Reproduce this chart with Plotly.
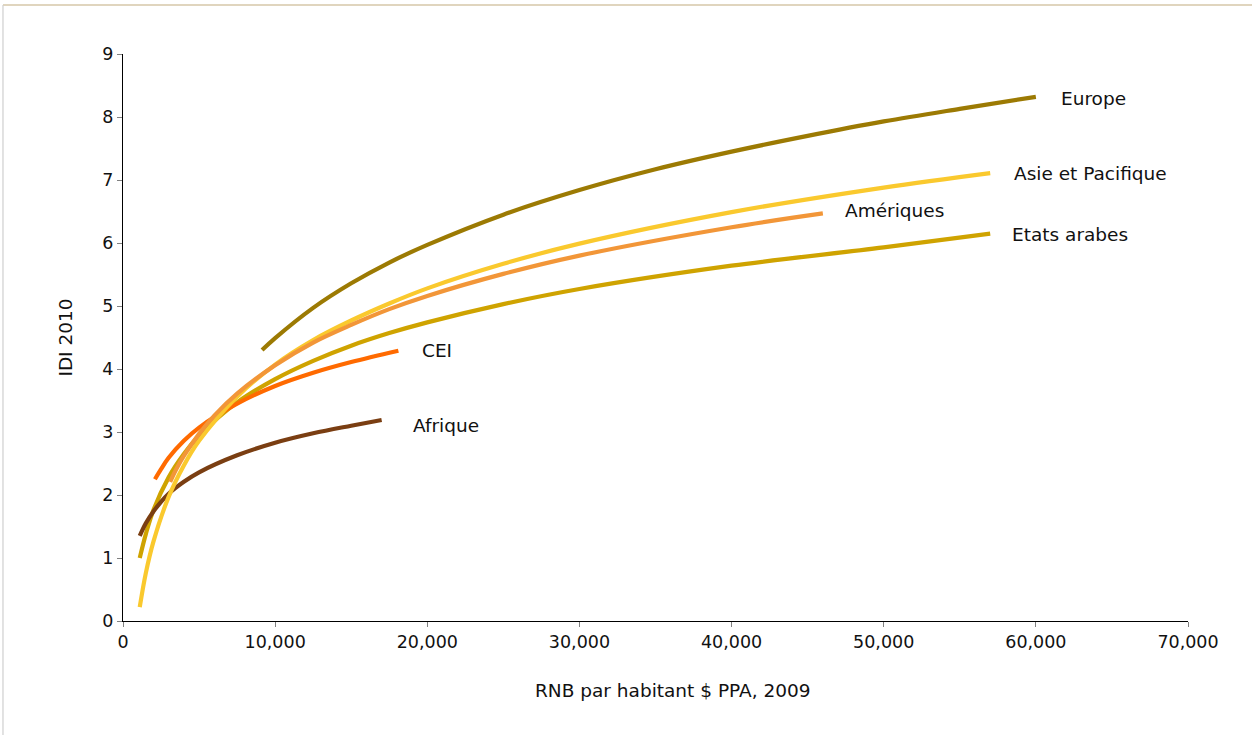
import plotly.graph_objects as go

# RNB par habitant ($ PPA, 2009) and IDI 2010 along each regional curve
europe_x = [9140, 10000, 12500, 15000, 17500, 20000, 25000, 30000, 35000, 40000, 45000, 50000, 55000, 60000]
europe_y = [4.30, 4.49, 4.97, 5.36, 5.69, 5.97, 6.45, 6.84, 7.17, 7.45, 7.70, 7.93, 8.13, 8.32]

asie_x = [1100, 1500, 2000, 3000, 4000, 5000, 7500, 10000, 12500, 15000, 17500, 20000, 25000, 30000, 40000, 50000, 57000]
asie_y = [0.22, 0.76, 1.26, 1.97, 2.47, 2.86, 3.56, 4.07, 4.46, 4.77, 5.04, 5.28, 5.67, 5.99, 6.49, 6.88, 7.11]

ameriques_x = [3100, 3500, 4000, 5000, 6000, 7500, 10000, 12500, 15000, 17500, 20000, 25000, 30000, 40000, 46000]
ameriques_y = [2.21, 2.41, 2.62, 2.97, 3.26, 3.61, 4.06, 4.42, 4.70, 4.95, 5.16, 5.51, 5.80, 6.25, 6.47]

arabes_x = [1100, 1500, 2000, 3000, 4000, 5000, 7500, 10000, 12500, 15000, 17500, 20000, 25000, 30000, 40000, 50000, 57000]
arabes_y = [1.00, 1.38, 1.76, 2.28, 2.65, 2.94, 3.47, 3.84, 4.13, 4.37, 4.57, 4.74, 5.03, 5.27, 5.64, 5.93, 6.15]

cei_x = [2100, 2500, 3000, 4000, 5000, 7500, 10000, 12500, 15000, 18100]
cei_y = [2.25, 2.41, 2.59, 2.86, 3.07, 3.45, 3.73, 3.94, 4.11, 4.29]

afrique_x = [1100, 1500, 2000, 3000, 4000, 5000, 7500, 10000, 12500, 15000, 17000]
afrique_y = [1.35, 1.55, 1.74, 2.02, 2.21, 2.36, 2.63, 2.83, 2.98, 3.10, 3.19]

series = [
    ("Etats arabes", arabes_x, arabes_y, "#CFA300"),
    ("Afrique", afrique_x, afrique_y, "#7A3E12"),
    ("CEI", cei_x, cei_y, "#FF6A00"),
    ("Asie et Pacifique", asie_x, asie_y, "#FAC92E"),
    ("Amériques", ameriques_x, ameriques_y, "#F29638"),
    ("Europe", europe_x, europe_y, "#9C7A03"),
]

# label anchors (left edge) for the curve names
label_pos = {
    "Europe": (61500, 8.30),
    "Asie et Pacifique": (58450, 7.11),
    "Amériques": (47350, 6.51),
    "Etats arabes": (58330, 6.14),
    "CEI": (19500, 4.29),
    "Afrique": (18900, 3.10),
}

x_ticks = [0, 10000, 20000, 30000, 40000, 50000, 60000, 70000]
x_tick_text = ["0", "10,000", "20,000", "30,000", "40,000", "50,000", "60,000", "70,000"]
y_ticks = list(range(0, 10))

FONT = "DejaVu Sans, Verdana, sans-serif"

fig = go.Figure()
for name, xs, ys, color in series:
    fig.add_trace(go.Scatter(
        x=xs, y=ys, mode="lines", name=name,
        line=dict(color=color, width=4.2, shape="spline", smoothing=1.0),
        showlegend=False, hoverinfo="skip",
    ))

for name, (lx, ly) in label_pos.items():
    fig.add_annotation(
        x=lx, y=ly, text=name, showarrow=False,
        xanchor="left", yanchor="middle",
        font=dict(family=FONT, size=18.5, color="#111111"),
    )

# x-axis title, set slightly right of the plot centre
fig.add_annotation(
    xref="paper", yref="paper", x=0.5164, y=-0.1217,
    text="RNB par habitant $ PPA, 2009", showarrow=False,
    xanchor="center", yanchor="middle",
    font=dict(family=FONT, size=18.5, color="#111111"),
)

# outer frame of the chart area (top and left edges)
fig.add_shape(type="line", xref="paper", yref="paper",
              x0=-0.1127, x1=1.2, y0=1.0865, y1=1.0865,
              line=dict(color="#D6C7A8", width=1.5))
fig.add_shape(type="line", xref="paper", yref="paper",
              x0=-0.1127, x1=-0.1127, y0=1.0865, y1=-0.3,
              line=dict(color="#CFCFCF", width=1.2))

fig.update_layout(
    width=1252, height=735,
    margin=dict(l=123, r=64, t=54, b=114),
    paper_bgcolor="white", plot_bgcolor="white",
    font=dict(family=FONT, size=17, color="#111111"),
    xaxis=dict(
        range=[0, 70000], tickvals=x_ticks, ticktext=x_tick_text,
        showgrid=False, zeroline=False,
        showline=True, linecolor="#000000", linewidth=1.3,
        ticks="outside", ticklen=5, tickcolor="#808080", tickwidth=1,
        tickfont=dict(family=FONT, size=17.5),
        fixedrange=True,
    ),
    yaxis=dict(
        range=[0, 9], tickvals=y_ticks,
        showgrid=False, zeroline=False,
        showline=True, linecolor="#000000", linewidth=1.3,
        ticks="outside", ticklen=5, tickcolor="#808080", tickwidth=1,
        tickfont=dict(family=FONT, size=17.5),
        title=dict(text="IDI 2010", standoff=24,
                   font=dict(family=FONT, size=18.5)),
        fixedrange=True,
    ),
)

fig.write_html("out.html")
